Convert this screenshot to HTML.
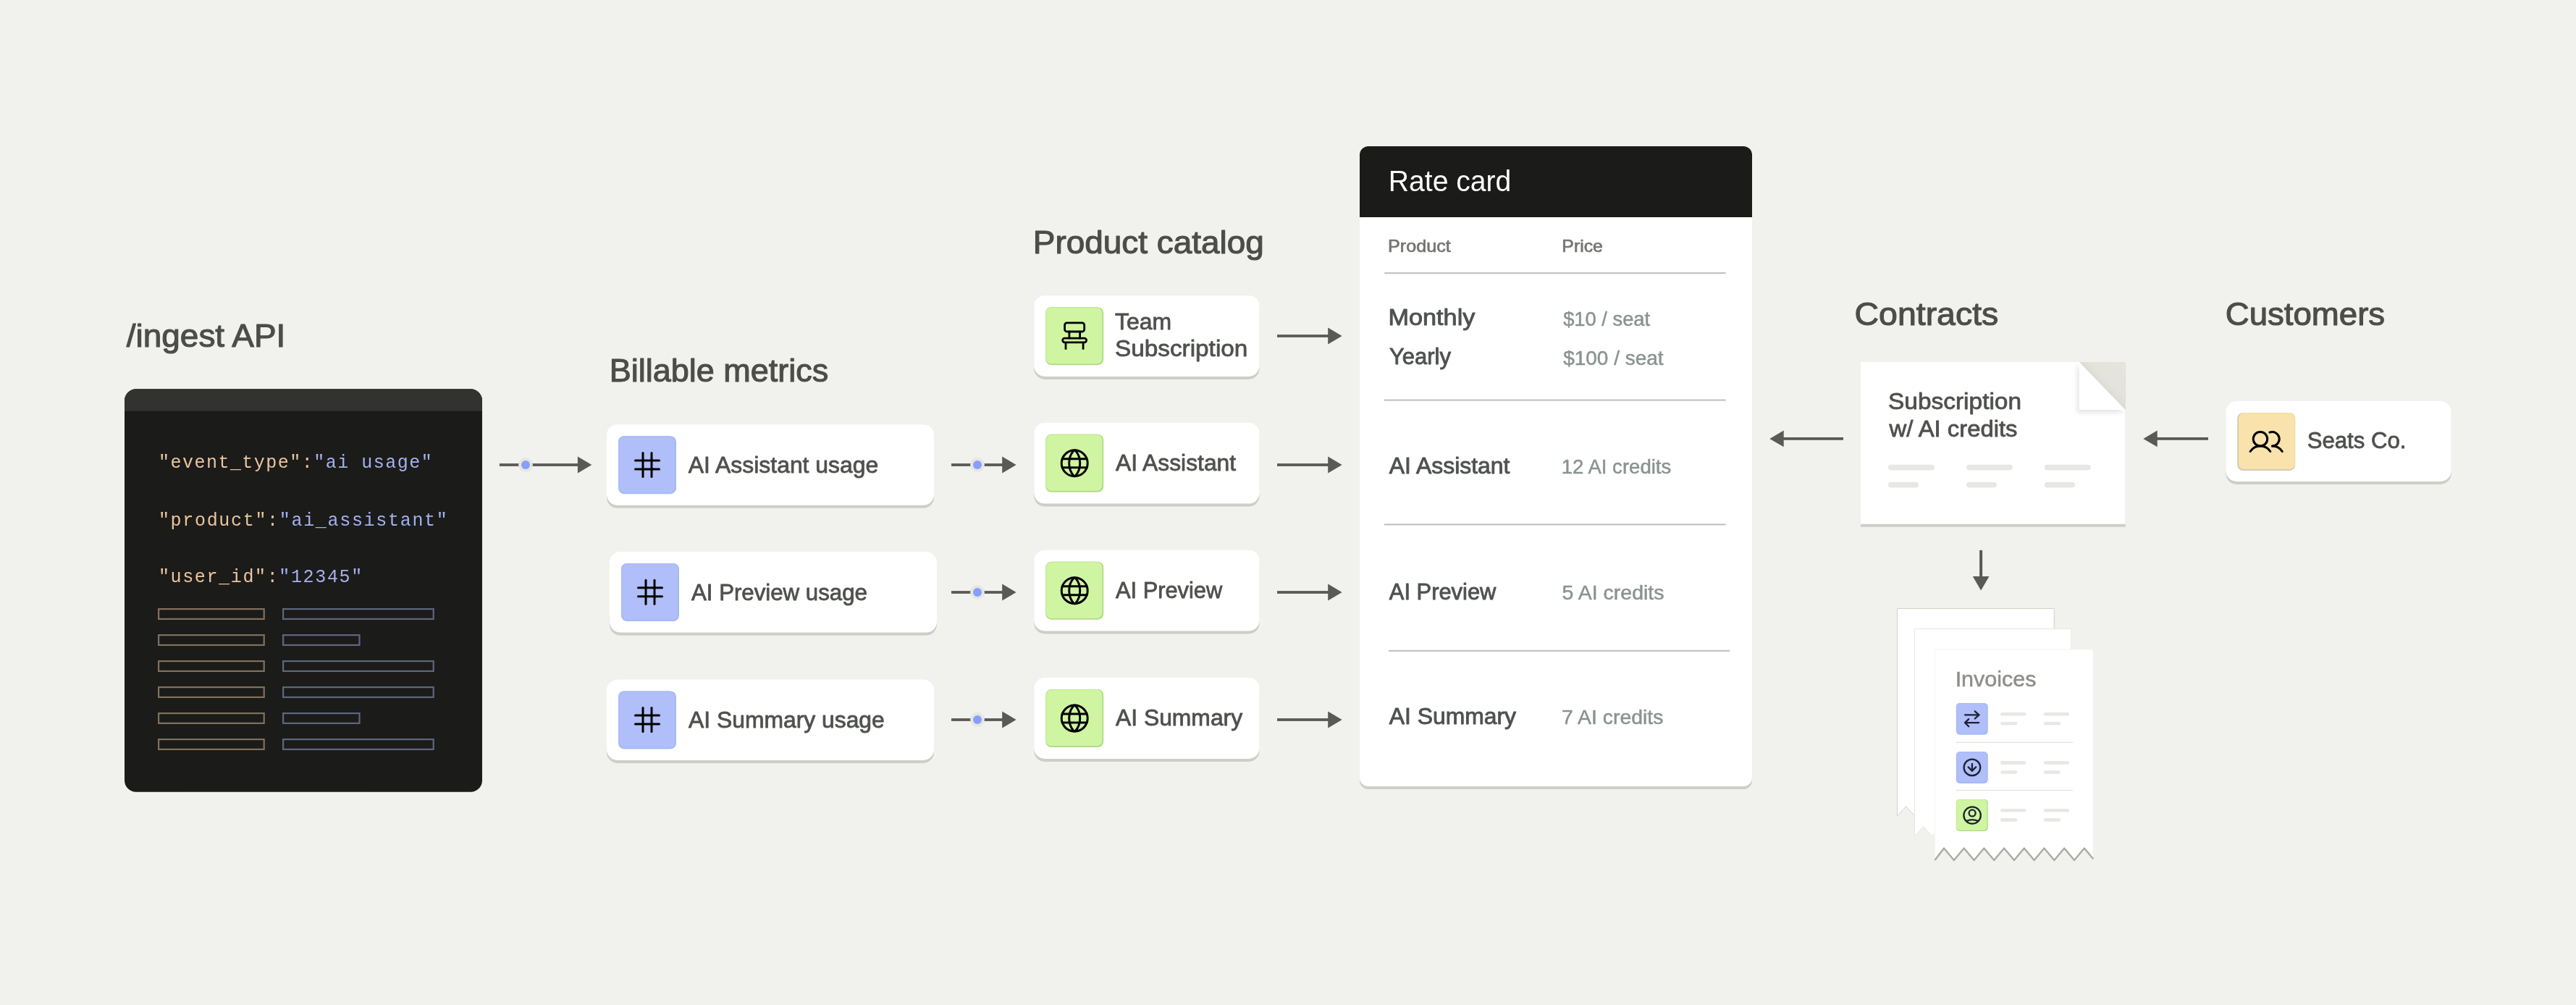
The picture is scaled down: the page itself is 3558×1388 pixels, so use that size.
<!DOCTYPE html>
<html><head><meta charset="utf-8"><title>Diagram</title>
<style>html,body{margin:0;padding:0;background:#F1F1ED;} svg{display:block;}</style></head>
<body><div style="will-change:transform"><svg width="3558" height="1388" viewBox="0 0 3558 1388">
<rect x="0" y="0" width="3558" height="1388" fill="#F1F1ED"/>
<rect x="172" y="537.2" width="494" height="556.6" rx="16" fill="#1B1B19"/>
<path d="M172,567.8 V553.2 A16,16 0 0 1 188,537.2 H650 A16,16 0 0 1 666,553.2 V567.8 Z" fill="#323230"/>
<text x="218.9" y="646.2" font-family="Liberation Mono" font-size="25" letter-spacing="1.495"><tspan fill="#EAC59F">"event_type":</tspan><tspan fill="#A5B1EF">"ai usage"</tspan></text>
<text x="218.9" y="725.5" font-family="Liberation Mono" font-size="25" letter-spacing="1.687"><tspan fill="#EAC59F">"product":</tspan><tspan fill="#A5B1EF">"ai_assistant"</tspan></text>
<text x="218.9" y="803.9" font-family="Liberation Mono" font-size="25" letter-spacing="1.64"><tspan fill="#EAC59F">"user_id":</tspan><tspan fill="#A5B1EF">"12345"</tspan></text>
<rect x="219.1" y="841.1" width="145.6" height="13.8" fill="none" stroke="#81705E" stroke-width="2.2"/>
<rect x="391.1" y="841.1" width="207.6" height="13.8" fill="none" stroke="#5E6680" stroke-width="2.2"/>
<rect x="219.1" y="877.1" width="145.6" height="13.8" fill="none" stroke="#81705E" stroke-width="2.2"/>
<rect x="391.1" y="877.1" width="105.4" height="13.8" fill="none" stroke="#5E6680" stroke-width="2.2"/>
<rect x="219.1" y="913.1" width="145.6" height="13.8" fill="none" stroke="#81705E" stroke-width="2.2"/>
<rect x="391.1" y="913.1" width="207.6" height="13.8" fill="none" stroke="#5E6680" stroke-width="2.2"/>
<rect x="219.1" y="949.1" width="145.6" height="13.8" fill="none" stroke="#81705E" stroke-width="2.2"/>
<rect x="391.1" y="949.1" width="207.6" height="13.8" fill="none" stroke="#5E6680" stroke-width="2.2"/>
<rect x="219.1" y="985.1" width="145.6" height="13.8" fill="none" stroke="#81705E" stroke-width="2.2"/>
<rect x="391.1" y="985.1" width="105.4" height="13.8" fill="none" stroke="#5E6680" stroke-width="2.2"/>
<rect x="219.1" y="1021.1" width="145.6" height="13.8" fill="none" stroke="#81705E" stroke-width="2.2"/>
<rect x="391.1" y="1021.1" width="207.6" height="13.8" fill="none" stroke="#5E6680" stroke-width="2.2"/>
<rect x="689.9" y="640.1" width="109.0" height="3.8" fill="#595957"/><path d="M797.9,630.6 L817.3,642 L797.9,653.4 Z" fill="#595957"/><circle cx="726" cy="642" r="9.9" fill="#E6E7DF"/><circle cx="726" cy="642" r="6" fill="#889EFF"/>
<rect x="1314" y="640.1" width="71.19999999999982" height="3.8" fill="#595957"/><path d="M1384.1999999999998,630.6 L1403.6,642 L1384.1999999999998,653.4 Z" fill="#595957"/><circle cx="1350" cy="642" r="9.9" fill="#E6E7DF"/><circle cx="1350" cy="642" r="6" fill="#889EFF"/>
<rect x="1314" y="816.1" width="71.19999999999982" height="3.8" fill="#595957"/><path d="M1384.1999999999998,806.6 L1403.6,818 L1384.1999999999998,829.4 Z" fill="#595957"/><circle cx="1350" cy="818" r="9.9" fill="#E6E7DF"/><circle cx="1350" cy="818" r="6" fill="#889EFF"/>
<rect x="1314" y="992.1" width="71.19999999999982" height="3.8" fill="#595957"/><path d="M1384.1999999999998,982.6 L1403.6,994 L1384.1999999999998,1005.4 Z" fill="#595957"/><circle cx="1350" cy="994" r="9.9" fill="#E6E7DF"/><circle cx="1350" cy="994" r="6" fill="#889EFF"/>
<rect x="1764" y="462.1" width="71.19999999999982" height="3.8" fill="#595957"/><path d="M1834.1999999999998,452.6 L1853.6,464 L1834.1999999999998,475.4 Z" fill="#595957"/>
<rect x="1764" y="640.1" width="71.19999999999982" height="3.8" fill="#595957"/><path d="M1834.1999999999998,630.6 L1853.6,642 L1834.1999999999998,653.4 Z" fill="#595957"/>
<rect x="1764" y="816.1" width="71.19999999999982" height="3.8" fill="#595957"/><path d="M1834.1999999999998,806.6 L1853.6,818 L1834.1999999999998,829.4 Z" fill="#595957"/>
<rect x="1764" y="992.1" width="71.19999999999982" height="3.8" fill="#595957"/><path d="M1834.1999999999998,982.6 L1853.6,994 L1834.1999999999998,1005.4 Z" fill="#595957"/>
<rect x="2462.7000000000003" y="604.0" width="83.29999999999973" height="3.8" fill="#595957"/><path d="M2463.7000000000003,594.5 L2444.3,605.9 L2463.7000000000003,617.3 Z" fill="#595957"/>
<rect x="2978.7000000000003" y="604.0" width="71.29999999999973" height="3.8" fill="#595957"/><path d="M2979.7000000000003,594.5 L2960.3,605.9 L2979.7000000000003,617.3 Z" fill="#595957"/>
<rect x="2734.1" y="759.9" width="4" height="37" fill="#595957"/>
<path d="M2724.8,796.1 L2736.1,815.6 L2747.5,796.1 Z" fill="#595957"/>
<rect x="838" y="590.2" width="452" height="111.6" rx="15" fill="#CECEC8"/><rect x="838" y="586.2" width="452" height="111.6" rx="15" fill="#FFFFFF"/>
<rect x="854" y="602.2" width="80" height="80" rx="8" fill="#A8B8F6"/><rect x="854" y="602.2" width="78" height="78" rx="8" fill="#A8B8F6"/><rect x="855" y="603.2" width="77" height="77" rx="7" fill="#B0BEF9"/>
<g transform="translate(870,617.9000000000001) scale(0.1875)" stroke="#000" stroke-width="16" stroke-linecap="round" fill="none"><line x1="40" y1="96" x2="216" y2="96"/><line x1="40" y1="160" x2="216" y2="160"/><line x1="96" y1="40" x2="96" y2="216"/><line x1="160" y1="40" x2="160" y2="216"/></g>
<rect x="842" y="766" width="452" height="111.6" rx="15" fill="#CECEC8"/><rect x="842" y="762" width="452" height="111.6" rx="15" fill="#FFFFFF"/>
<rect x="858" y="778" width="80" height="80" rx="8" fill="#A8B8F6"/><rect x="858" y="778" width="78" height="78" rx="8" fill="#A8B8F6"/><rect x="859" y="779" width="77" height="77" rx="7" fill="#B0BEF9"/>
<g transform="translate(874,793.7) scale(0.1875)" stroke="#000" stroke-width="16" stroke-linecap="round" fill="none"><line x1="40" y1="96" x2="216" y2="96"/><line x1="40" y1="160" x2="216" y2="160"/><line x1="96" y1="40" x2="96" y2="216"/><line x1="160" y1="40" x2="160" y2="216"/></g>
<rect x="838" y="942.4" width="452" height="111.6" rx="15" fill="#CECEC8"/><rect x="838" y="938.4" width="452" height="111.6" rx="15" fill="#FFFFFF"/>
<rect x="854" y="954.4" width="80" height="80" rx="8" fill="#A8B8F6"/><rect x="854" y="954.4" width="78" height="78" rx="8" fill="#A8B8F6"/><rect x="855" y="955.4" width="77" height="77" rx="7" fill="#B0BEF9"/>
<g transform="translate(870,970.1) scale(0.1875)" stroke="#000" stroke-width="16" stroke-linecap="round" fill="none"><line x1="40" y1="96" x2="216" y2="96"/><line x1="40" y1="160" x2="216" y2="160"/><line x1="96" y1="40" x2="96" y2="216"/><line x1="160" y1="40" x2="160" y2="216"/></g>
<rect x="1428.2" y="412.2" width="311.4" height="111.8" rx="15" fill="#CECEC8"/><rect x="1428.2" y="408.2" width="311.4" height="111.8" rx="15" fill="#FFFFFF"/>
<rect x="1444.2" y="424.2" width="80" height="80" rx="8" fill="#B1DC86"/><rect x="1444.2" y="424.2" width="78" height="78" rx="8" fill="#C3EB90"/><rect x="1445.2" y="425.2" width="77" height="77" rx="7" fill="#D0F5A2"/>
<g transform="translate(1444.2,424.2)" stroke="#000" stroke-width="2.8" fill="none" stroke-linecap="round"><rect x="26.4" y="21.6" width="27.1" height="12.2" rx="3"/><line x1="32.7" y1="34" x2="32.7" y2="43"/><line x1="47.4" y1="34" x2="47.4" y2="43"/><rect x="23.5" y="43" width="32.9" height="5.7" rx="2.8"/><line x1="27.8" y1="49" x2="27.8" y2="57.5"/><line x1="51.9" y1="49" x2="51.9" y2="57.5"/></g>
<rect x="1428.2" y="587.8" width="311.4" height="111.8" rx="15" fill="#CECEC8"/><rect x="1428.2" y="583.8" width="311.4" height="111.8" rx="15" fill="#FFFFFF"/>
<rect x="1444.2" y="599.8" width="80" height="80" rx="8" fill="#B1DC86"/><rect x="1444.2" y="599.8" width="78" height="78" rx="8" fill="#C3EB90"/><rect x="1445.2" y="600.8" width="77" height="77" rx="7" fill="#D0F5A2"/>
<g transform="translate(1460.2,615.8) scale(0.1875)" stroke="#000" stroke-width="16" fill="none" stroke-linecap="round" stroke-linejoin="round"><circle cx="128" cy="128" r="96"/><line x1="37.46" y1="96" x2="218.54" y2="96"/><line x1="37.46" y1="160" x2="218.54" y2="160"/><path d="M88,128c0,37.46,13.33,70.92,34.28,93.49a7.77,7.77,0,0,0,11.44,0C154.67,198.92,168,165.46,168,128s-13.33-70.92-34.28-93.49a7.77,7.77,0,0,0-11.44,0C101.33,57.08,88,90.54,88,128Z"/></g>
<rect x="1428.2" y="763.7" width="311.4" height="111.8" rx="15" fill="#CECEC8"/><rect x="1428.2" y="759.7" width="311.4" height="111.8" rx="15" fill="#FFFFFF"/>
<rect x="1444.2" y="775.7" width="80" height="80" rx="8" fill="#B1DC86"/><rect x="1444.2" y="775.7" width="78" height="78" rx="8" fill="#C3EB90"/><rect x="1445.2" y="776.7" width="77" height="77" rx="7" fill="#D0F5A2"/>
<g transform="translate(1460.2,791.7) scale(0.1875)" stroke="#000" stroke-width="16" fill="none" stroke-linecap="round" stroke-linejoin="round"><circle cx="128" cy="128" r="96"/><line x1="37.46" y1="96" x2="218.54" y2="96"/><line x1="37.46" y1="160" x2="218.54" y2="160"/><path d="M88,128c0,37.46,13.33,70.92,34.28,93.49a7.77,7.77,0,0,0,11.44,0C154.67,198.92,168,165.46,168,128s-13.33-70.92-34.28-93.49a7.77,7.77,0,0,0-11.44,0C101.33,57.08,88,90.54,88,128Z"/></g>
<rect x="1428.2" y="940.1" width="311.4" height="111.8" rx="15" fill="#CECEC8"/><rect x="1428.2" y="936.1" width="311.4" height="111.8" rx="15" fill="#FFFFFF"/>
<rect x="1444.2" y="952.1" width="80" height="80" rx="8" fill="#B1DC86"/><rect x="1444.2" y="952.1" width="78" height="78" rx="8" fill="#C3EB90"/><rect x="1445.2" y="953.1" width="77" height="77" rx="7" fill="#D0F5A2"/>
<g transform="translate(1460.2,968.1) scale(0.1875)" stroke="#000" stroke-width="16" fill="none" stroke-linecap="round" stroke-linejoin="round"><circle cx="128" cy="128" r="96"/><line x1="37.46" y1="96" x2="218.54" y2="96"/><line x1="37.46" y1="160" x2="218.54" y2="160"/><path d="M88,128c0,37.46,13.33,70.92,34.28,93.49a7.77,7.77,0,0,0,11.44,0C154.67,198.92,168,165.46,168,128s-13.33-70.92-34.28-93.49a7.77,7.77,0,0,0-11.44,0C101.33,57.08,88,90.54,88,128Z"/></g>
<rect x="1878" y="206" width="542" height="884" rx="12" fill="#CECEC8"/>
<rect x="1878" y="202" width="542" height="884" rx="12" fill="#FFFFFF"/>
<path d="M1878,300 V214 A12,12 0 0 1 1890,202 H2408 A12,12 0 0 1 2420,214 V300 Z" fill="#1B1B19"/>
<rect x="1912.2" y="376.2" width="471.39999999999986" height="2" fill="#BEBEBB"/>
<rect x="1911.8" y="551.6" width="471.89999999999986" height="2" fill="#BEBEBB"/>
<rect x="1911.8" y="723.4" width="471.89999999999986" height="2" fill="#BEBEBB"/>
<rect x="1918" y="897.8" width="471.1999999999998" height="2" fill="#BEBEBB"/>
<rect x="2570" y="504" width="365.6" height="223.7" fill="#CECEC8"/>
<path d="M2570,500 H2871.8 L2935.6,566 V723.7 H2570 Z" fill="#FFFFFF"/>
<defs><linearGradient id="fg" x1="0" y1="1" x2="1" y2="0" gradientUnits="objectBoundingBox"><stop offset="0.45" stop-color="#D9D9D1"/><stop offset="0.6" stop-color="#E3E3DC"/><stop offset="1" stop-color="#E5E5DE"/></linearGradient></defs>
<path d="M2871.8,500 H2935.6 V566 Z" fill="url(#fg)"/>
<defs><filter id="zb" x="-5%" y="-50%" width="110%" height="200%"><feGaussianBlur stdDeviation="0.6"/></filter></defs>
<defs><filter id="fs" x="-50%" y="-50%" width="200%" height="200%"><feGaussianBlur stdDeviation="3"/></filter></defs>
<path d="M2869,503 L2933,569 L2933,570 L2869,570 Z" fill="#000" opacity="0.10" filter="url(#fs)"/>
<path d="M2871.8,500 L2935.6,566 H2871.8 Z" fill="#FFFFFF"/>
<rect x="2608" y="641.8" width="64" height="7.6" rx="3.8" fill="#E7E7E5"/>
<rect x="2608" y="665.8" width="42" height="7.6" rx="3.8" fill="#E7E7E5"/>
<rect x="2716" y="641.8" width="64" height="7.6" rx="3.8" fill="#E7E7E5"/>
<rect x="2716" y="665.8" width="42" height="7.6" rx="3.8" fill="#E7E7E5"/>
<rect x="2823.9" y="641.8" width="64" height="7.6" rx="3.8" fill="#E7E7E5"/>
<rect x="2823.9" y="665.8" width="42" height="7.6" rx="3.8" fill="#E7E7E5"/>
<rect x="3074.3" y="558.1" width="311.3" height="110.8" rx="15" fill="#CECEC8"/><rect x="3074.3" y="554.1" width="311.3" height="110.8" rx="15" fill="#FFFFFF"/>
<rect x="3090.2" y="570" width="80" height="80" rx="8" fill="#D5CAB4"/><rect x="3092.2" y="570" width="78" height="78" rx="8" fill="#F3DBA5"/><rect x="3092.2" y="571" width="77" height="77" rx="7" fill="#F9E2AC"/>
<g transform="translate(3106.2,586) scale(0.1875)" stroke="#000" stroke-width="16" fill="none" stroke-linecap="round" stroke-linejoin="round"><circle cx="84" cy="108" r="52"/><path d="M10.23,200a88,88,0,0,1,147.54,0"/><path d="M172,160a87.93,87.93,0,0,1,73.77,40"/><path d="M152.69,59.7A52,52,0,1,1,172,160"/></g>
<path d="M2620.5,840.5 H2837.2 V1123.84 L2837.20,1123.84 L2827.90,1113.70 L2815.70,1127.00 L2803.50,1113.70 L2791.30,1127.00 L2779.10,1113.70 L2766.90,1127.00 L2754.70,1113.70 L2742.50,1127.00 L2730.30,1113.70 L2718.10,1127.00 L2705.90,1113.70 L2693.70,1127.00 L2681.50,1113.70 L2669.30,1127.00 L2657.10,1113.70 L2644.90,1127.00 L2632.70,1113.70 L2620.50,1127.00 Z" fill="#FFFFFF" stroke="#D3D3C8" stroke-width="1"/>
<path d="M2644.5,868.4 H2861 V1151.57 L2861.00,1151.57 L2851.90,1141.50 L2839.70,1155.00 L2827.50,1141.50 L2815.30,1155.00 L2803.10,1141.50 L2790.90,1155.00 L2778.70,1141.50 L2766.50,1155.00 L2754.30,1141.50 L2742.10,1155.00 L2729.90,1141.50 L2717.70,1155.00 L2705.50,1141.50 L2693.30,1155.00 L2681.10,1141.50 L2668.90,1155.00 L2656.70,1141.50 L2644.50,1155.00 Z" fill="#FFFFFF" stroke="#E6E6E3" stroke-width="1"/>
<path d="M2672.4,896.9 H2891.2 V1186.15 L2891.20,1186.15 L2878.90,1171.50 L2865.05,1188.00 L2851.20,1171.50 L2837.35,1188.00 L2823.50,1171.50 L2809.65,1188.00 L2795.80,1171.50 L2781.95,1188.00 L2768.10,1171.50 L2754.25,1188.00 L2740.40,1171.50 L2726.55,1188.00 L2712.70,1171.50 L2698.85,1188.00 L2685.00,1171.50 L2672.40,1188.00 Z" fill="#FFFFFF" stroke="#F3F3F1" stroke-width="1"/><path d="M2672.40,1188.00 L2685.00,1171.50 L2698.85,1188.00 L2712.70,1171.50 L2726.55,1188.00 L2740.40,1171.50 L2754.25,1188.00 L2768.10,1171.50 L2781.95,1188.00 L2795.80,1171.50 L2809.65,1188.00 L2823.50,1171.50 L2837.35,1188.00 L2851.20,1171.50 L2865.05,1188.00 L2878.90,1171.50 L2891.20,1186.15" fill="none" stroke="#ABABA5" stroke-width="2.4" stroke-linejoin="round" filter="url(#zb)"/>
<rect x="2701.9" y="971" width="43.8" height="43.8" rx="5" fill="#A8B8F6"/><rect x="2701.9" y="971" width="41.8" height="41.8" rx="5" fill="#A8B8F6"/><rect x="2702.9" y="972" width="40.8" height="40.8" rx="4" fill="#B0BEF9"/>
<rect x="2701.9" y="1038.2" width="43.8" height="43.8" rx="5" fill="#A8B8F6"/><rect x="2701.9" y="1038.2" width="41.8" height="41.8" rx="5" fill="#A8B8F6"/><rect x="2702.9" y="1039.2" width="40.8" height="40.8" rx="4" fill="#B0BEF9"/>
<rect x="2701.9" y="1104.1" width="43.8" height="43.8" rx="5" fill="#B1DC86"/><rect x="2701.9" y="1104.1" width="42.3" height="42.3" rx="5" fill="#C3EB90"/><rect x="2702.9" y="1105.1" width="41.3" height="41.3" rx="4" fill="#D0F5A2"/>
<g transform="translate(2701.9,971)" stroke="#1C2230" stroke-width="2.3" fill="none" stroke-linecap="round" stroke-linejoin="round"><line x1="12.2" y1="16.4" x2="31.4" y2="16.4"/><polyline points="25.9,11.3 31.4,16.4 25.9,21.5"/><line x1="31.3" y1="27.1" x2="12.2" y2="27.1"/><polyline points="17.3,22.1 12.2,27.1 17.3,32.2"/></g>
<g transform="translate(2701.9,1038.2)" stroke="#1C2230" stroke-width="2.3" fill="none" stroke-linecap="round" stroke-linejoin="round"><circle cx="22" cy="21.7" r="11.3"/><line x1="22" y1="16.8" x2="22" y2="26.4"/><polyline points="16.7,21.2 22,26.4 27.3,21.2"/></g>
<g transform="translate(2701.9,1104.1)" stroke="#1C2230" stroke-width="2.3" fill="none" stroke-linecap="round" stroke-linejoin="round"><circle cx="22.2" cy="21.9" r="11.7"/><circle cx="22.2" cy="18.8" r="4.5"/><path d="M14.3,29.7 Q22.2,26.5 30.1,29.7"/></g>
<rect x="2763.1" y="983.9" width="35.2" height="4.6" rx="2.3" fill="#E7E7E5"/>
<rect x="2763.1" y="997" width="23.2" height="4.6" rx="2.3" fill="#E7E7E5"/>
<rect x="2822.8" y="983.9" width="35.2" height="4.6" rx="2.3" fill="#E7E7E5"/>
<rect x="2822.8" y="997" width="23.2" height="4.6" rx="2.3" fill="#E7E7E5"/>
<rect x="2763.1" y="1051.1000000000001" width="35.2" height="4.6" rx="2.3" fill="#E7E7E5"/>
<rect x="2763.1" y="1064.2" width="23.2" height="4.6" rx="2.3" fill="#E7E7E5"/>
<rect x="2822.8" y="1051.1000000000001" width="35.2" height="4.6" rx="2.3" fill="#E7E7E5"/>
<rect x="2822.8" y="1064.2" width="23.2" height="4.6" rx="2.3" fill="#E7E7E5"/>
<rect x="2763.1" y="1117.0" width="35.2" height="4.6" rx="2.3" fill="#E7E7E5"/>
<rect x="2763.1" y="1130.1" width="23.2" height="4.6" rx="2.3" fill="#E7E7E5"/>
<rect x="2822.8" y="1117.0" width="35.2" height="4.6" rx="2.3" fill="#E7E7E5"/>
<rect x="2822.8" y="1130.1" width="23.2" height="4.6" rx="2.3" fill="#E7E7E5"/>
<rect x="2701.9" y="1024.8" width="161.6" height="1.2" fill="#E2E2DC"/>
<rect x="2701.9" y="1090.9" width="161.6" height="1.2" fill="#E2E2DC"/>
<text x="174.85" y="479.15" font-family="Liberation Sans" font-weight="400" font-size="43.8" fill="#4B4D49" stroke="#4B4D49" stroke-width="1.1" stroke-linejoin="round" textLength="219.50" lengthAdjust="spacingAndGlyphs">/ingest API</text>
<text x="841.74" y="527.45" font-family="Liberation Sans" font-weight="400" font-size="43.8" fill="#4B4D49" stroke="#4B4D49" stroke-width="1.1" stroke-linejoin="round" textLength="302.52" lengthAdjust="spacingAndGlyphs">Billable metrics</text>
<text x="1426.76" y="349.95" font-family="Liberation Sans" font-weight="400" font-size="43.8" fill="#4B4D49" stroke="#4B4D49" stroke-width="1.1" stroke-linejoin="round" textLength="319.17" lengthAdjust="spacingAndGlyphs">Product catalog</text>
<text x="2561.57" y="449.25" font-family="Liberation Sans" font-weight="400" font-size="43.8" fill="#4B4D49" stroke="#4B4D49" stroke-width="1.1" stroke-linejoin="round" textLength="198.73" lengthAdjust="spacingAndGlyphs">Contracts</text>
<text x="3073.71" y="448.85" font-family="Liberation Sans" font-weight="400" font-size="43.8" fill="#4B4D49" stroke="#4B4D49" stroke-width="1.1" stroke-linejoin="round" textLength="220.46" lengthAdjust="spacingAndGlyphs">Customers</text>
<text x="950.80" y="652.50" font-family="Liberation Sans" font-weight="400" font-size="31.5" fill="#4F514E" stroke="#4F514E" stroke-width="0.8" stroke-linejoin="round" textLength="262.48" lengthAdjust="spacingAndGlyphs">AI Assistant usage</text>
<text x="955.00" y="828.90" font-family="Liberation Sans" font-weight="400" font-size="31.5" fill="#4F514E" stroke="#4F514E" stroke-width="0.8" stroke-linejoin="round" textLength="242.86" lengthAdjust="spacingAndGlyphs">AI Preview usage</text>
<text x="951.00" y="1004.50" font-family="Liberation Sans" font-weight="400" font-size="31.5" fill="#4F514E" stroke="#4F514E" stroke-width="0.8" stroke-linejoin="round" textLength="270.79" lengthAdjust="spacingAndGlyphs">AI Summary usage</text>
<text x="1540.10" y="454.60" font-family="Liberation Sans" font-weight="400" font-size="31.5" fill="#4F514E" stroke="#4F514E" stroke-width="0.8" stroke-linejoin="round" textLength="78.15" lengthAdjust="spacingAndGlyphs">Team</text>
<text x="1539.96" y="492.41" font-family="Liberation Sans" font-weight="400" font-size="31.5" fill="#4F514E" stroke="#4F514E" stroke-width="0.8" stroke-linejoin="round" textLength="183.41" lengthAdjust="spacingAndGlyphs">Subscription</text>
<text x="1541.00" y="650.10" font-family="Liberation Sans" font-weight="400" font-size="31.5" fill="#4F514E" stroke="#4F514E" stroke-width="0.8" stroke-linejoin="round" textLength="166.09" lengthAdjust="spacingAndGlyphs">AI Assistant</text>
<text x="1541.00" y="826.00" font-family="Liberation Sans" font-weight="400" font-size="31.5" fill="#4F514E" stroke="#4F514E" stroke-width="0.8" stroke-linejoin="round" textLength="147.22" lengthAdjust="spacingAndGlyphs">AI Preview</text>
<text x="1541.00" y="1001.90" font-family="Liberation Sans" font-weight="400" font-size="31.5" fill="#4F514E" stroke="#4F514E" stroke-width="0.8" stroke-linejoin="round" textLength="175.10" lengthAdjust="spacingAndGlyphs">AI Summary</text>
<text x="1917.74" y="264.10" font-family="Liberation Sans" font-weight="400" font-size="40.2" fill="#FFFFFF" textLength="169.65" lengthAdjust="spacingAndGlyphs">Rate card</text>
<text x="1917.04" y="347.85" font-family="Liberation Sans" font-weight="400" font-size="23.8" fill="#747472" stroke="#747472" stroke-width="0.7" stroke-linejoin="round" textLength="86.73" lengthAdjust="spacingAndGlyphs">Product</text>
<text x="2157.37" y="347.85" font-family="Liberation Sans" font-weight="400" font-size="23.8" fill="#747472" stroke="#747472" stroke-width="0.7" stroke-linejoin="round" textLength="56.46" lengthAdjust="spacingAndGlyphs">Price</text>
<text x="1917.58" y="449.45" font-family="Liberation Sans" font-weight="400" font-size="31.1" fill="#4F5250" stroke="#4F5250" stroke-width="0.9" stroke-linejoin="round" textLength="119.77" lengthAdjust="spacingAndGlyphs">Monthly</text>
<text x="1918.97" y="503.35" font-family="Liberation Sans" font-weight="400" font-size="31.1" fill="#4F5250" stroke="#4F5250" stroke-width="0.9" stroke-linejoin="round" textLength="84.98" lengthAdjust="spacingAndGlyphs">Yearly</text>
<text x="2159.15" y="449.65" font-family="Liberation Sans" font-weight="400" font-size="27.6" fill="#8A9391" stroke="#8A9391" stroke-width="0.5" stroke-linejoin="round" textLength="120.01" lengthAdjust="spacingAndGlyphs">$10 / seat</text>
<text x="2159.15" y="503.55" font-family="Liberation Sans" font-weight="400" font-size="27.6" fill="#8A9391" stroke="#8A9391" stroke-width="0.5" stroke-linejoin="round" textLength="138.40" lengthAdjust="spacingAndGlyphs">$100 / seat</text>
<text x="1918.85" y="653.65" font-family="Liberation Sans" font-weight="400" font-size="31.1" fill="#4F5250" stroke="#4F5250" stroke-width="0.9" stroke-linejoin="round" textLength="166.59" lengthAdjust="spacingAndGlyphs">AI Assistant</text>
<text x="2156.64" y="653.85" font-family="Liberation Sans" font-weight="400" font-size="27.6" fill="#8A9391" stroke="#8A9391" stroke-width="0.5" stroke-linejoin="round" textLength="151.66" lengthAdjust="spacingAndGlyphs">12 AI credits</text>
<text x="1918.85" y="827.55" font-family="Liberation Sans" font-weight="400" font-size="31.1" fill="#4F5250" stroke="#4F5250" stroke-width="0.9" stroke-linejoin="round" textLength="147.52" lengthAdjust="spacingAndGlyphs">AI Preview</text>
<text x="2157.47" y="827.75" font-family="Liberation Sans" font-weight="400" font-size="27.6" fill="#8A9391" stroke="#8A9391" stroke-width="0.5" stroke-linejoin="round" textLength="141.06" lengthAdjust="spacingAndGlyphs">5 AI credits</text>
<text x="1918.85" y="1000.25" font-family="Liberation Sans" font-weight="400" font-size="31.1" fill="#4F5250" stroke="#4F5250" stroke-width="0.9" stroke-linejoin="round" textLength="175.20" lengthAdjust="spacingAndGlyphs">AI Summary</text>
<text x="2157.03" y="1000.45" font-family="Liberation Sans" font-weight="400" font-size="27.6" fill="#8A9391" stroke="#8A9391" stroke-width="0.5" stroke-linejoin="round" textLength="140.39" lengthAdjust="spacingAndGlyphs">7 AI credits</text>
<text x="2608.05" y="565.10" font-family="Liberation Sans" font-weight="400" font-size="30.9" fill="#4F514E" stroke="#4F514E" stroke-width="0.8" stroke-linejoin="round" textLength="184.02" lengthAdjust="spacingAndGlyphs">Subscription</text>
<text x="2609.61" y="602.60" font-family="Liberation Sans" font-weight="400" font-size="30.9" fill="#4F514E" stroke="#4F514E" stroke-width="0.8" stroke-linejoin="round" textLength="176.91" lengthAdjust="spacingAndGlyphs">w/ AI credits</text>
<text x="3186.73" y="618.90" font-family="Liberation Sans" font-weight="400" font-size="31.5" fill="#4F514E" stroke="#4F514E" stroke-width="0.8" stroke-linejoin="round" textLength="136.68" lengthAdjust="spacingAndGlyphs">Seats Co.</text>
<text x="2700.67" y="948.45" font-family="Liberation Sans" font-weight="400" font-size="29.8" fill="#8E8F88" stroke="#8E8F88" stroke-width="0.5" stroke-linejoin="round" textLength="111.73" lengthAdjust="spacingAndGlyphs">Invoices</text>
</svg></div></body></html>
